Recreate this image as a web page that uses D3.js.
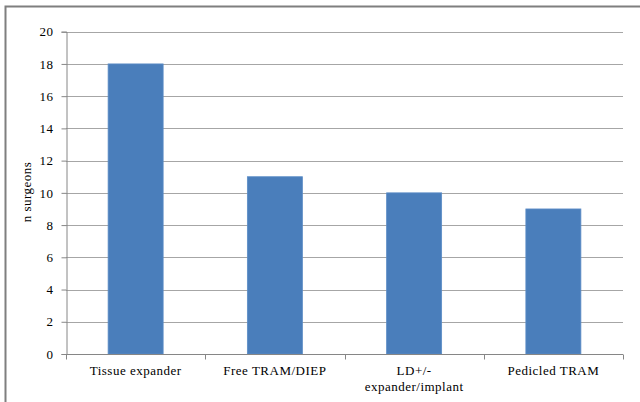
<!DOCTYPE html>
<html>
<head>
<meta charset="utf-8">
<script src="https://cdn.jsdelivr.net/npm/d3@7"></script>
<style>
  html, body { margin: 0; padding: 0; background: #fff; }
  svg { display: block; }
  .lab { font-family: "Liberation Serif", "DejaVu Serif", serif; font-size: 13px; letter-spacing: 0.5px; fill: #000; }
</style>
</head>
<body>
<svg id="chart" width="640" height="402"></svg>
<script>
// Reconstruction types and number of surgeons who use each
const categories = ["Tissue expander", "Free TRAM/DIEP", "LD+/-\nexpander/implant", "Pedicled TRAM"];
const surgeons = [18, 11, 10, 9];
const yTicks = [0, 2, 4, 6, 8, 10, 12, 14, 16, 18, 20];
const yTitle = "n surgeons";

const svg = d3.select("#chart");
const W = 640, H = 402;
const plot = { left: 66, right: 623, top: 31.7, bottom: 354 };

// Outer chart frame (only top and left edges fall inside the canvas)
svg.append("path")
  .attr("d", `M5.5,${H} L5.5,6.5 L${W},6.5`)
  .attr("fill", "none")
  .attr("stroke", "#7f7f7f")
  .attr("stroke-width", 2);

const x = d3.scaleBand()
  .domain(categories)
  .range([plot.left, plot.right])
  .paddingInner(0.605)
  .paddingOuter(0.3025);

const xCat = d3.scaleBand()
  .domain(categories)
  .range([plot.left, plot.right])
  .padding(0);

const y = d3.scaleLinear()
  .domain([0, 20])
  .range([plot.bottom, plot.top]);

// Horizontal gridlines
svg.append("g")
  .selectAll("line")
  .data(yTicks.filter(d => d > 0))
  .join("line")
  .attr("x1", plot.left)
  .attr("x2", plot.right)
  .attr("y1", d => Math.round(y(d)) + 0.5)
  .attr("y2", d => Math.round(y(d)) + 0.5)
  .attr("stroke", "#a6a6a6")
  .attr("stroke-width", 1);

// Bars
svg.append("g")
  .selectAll("rect")
  .data(categories.map((c, i) => ({ c, v: surgeons[i] })))
  .join("rect")
  .attr("x", d => x(d.c))
  .attr("y", d => y(d.v))
  .attr("width", x.bandwidth())
  .attr("height", d => y(0) - y(d.v))
  .attr("fill", "#4a7ebb")
  .attr("stroke", "#5b8cc6")
  .attr("stroke-width", 0.8);

// Y axis
const yAxis = d3.axisLeft(y)
  .tickValues(yTicks)
  .tickSize(5)
  .tickPadding(8)
  .tickFormat(d3.format("d"));

const yg = svg.append("g")
  .attr("transform", `translate(${plot.left + 0.5},0)`)
  .call(yAxis)
  .attr("font-family", null)
  .attr("font-size", null);
yg.select(".domain").attr("stroke", "#868686");
yg.selectAll(".tick line").attr("stroke", "#868686");
yg.selectAll(".tick text").attr("class", "lab").attr("fill", null);

// X axis with ticks at category boundaries
const xg = svg.append("g")
  .attr("transform", `translate(0,${Math.round(plot.bottom) + 0.5})`);
xg.append("line")
  .attr("x1", plot.left)
  .attr("x2", plot.right)
  .attr("stroke", "#868686");
const bounds = categories.map(c => xCat(c)).concat([plot.right]);
xg.selectAll("line.tk")
  .data(bounds)
  .join("line")
  .attr("class", "tk")
  .attr("x1", d => Math.round(d) + 0.5)
  .attr("x2", d => Math.round(d) + 0.5)
  .attr("y1", 0)
  .attr("y2", 5)
  .attr("stroke", "#868686");

// Category labels (multi-line where the name contains a break)
const lbl = svg.append("g")
  .selectAll("text")
  .data(categories)
  .join("text")
  .attr("class", "lab")
  .attr("x", d => xCat(d) + xCat.bandwidth() / 2)
  .attr("y", 375)
  .attr("text-anchor", "middle");
lbl.each(function(d) {
  const lines = d.split("\n");
  d3.select(this).selectAll("tspan")
    .data(lines)
    .join("tspan")
    .attr("x", xCat(d) + xCat.bandwidth() / 2)
    .attr("dy", (l, i) => i === 0 ? 0 : 16)
    .text(l => l);
});

// Y axis title
svg.append("text")
  .attr("class", "lab")
  .attr("transform", `translate(31,192) rotate(-90)`)
  .attr("text-anchor", "middle")
  .text(yTitle);
</script>
</body>
</html>
